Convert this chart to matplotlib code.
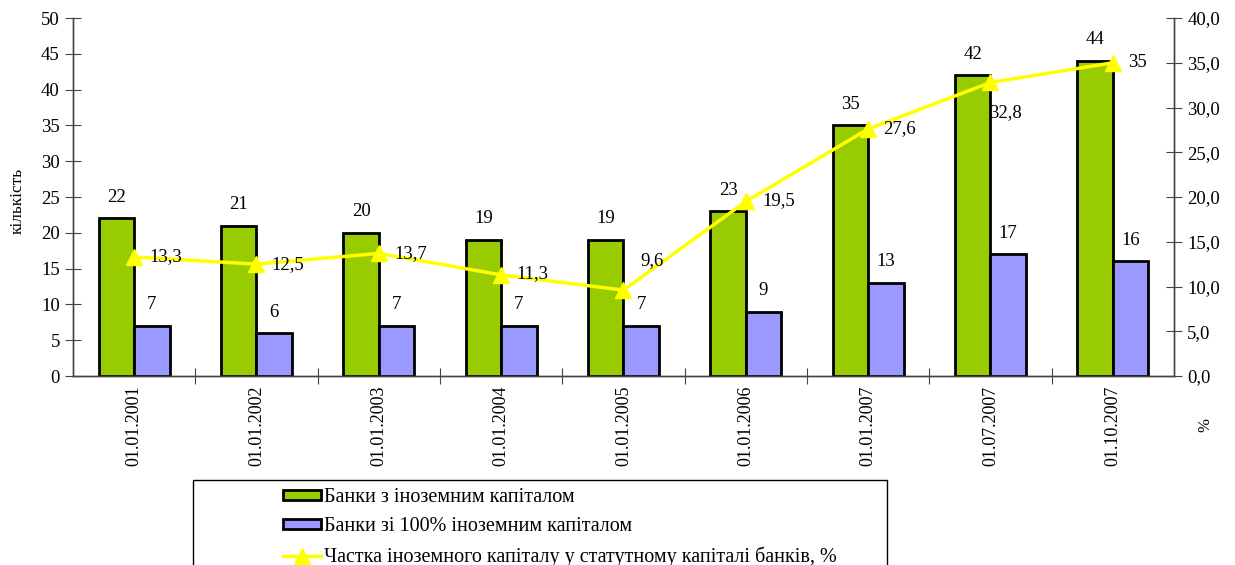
import matplotlib
matplotlib.use('Agg')
import matplotlib.pyplot as plt
from matplotlib.patches import Patch, Rectangle
from matplotlib.lines import Line2D
import numpy as np

plt.rcParams['font.family'] = ['Liberation Serif', 'DejaVu Serif']

dates = ["01.01.2001", "01.01.2002", "01.01.2003", "01.01.2004", "01.01.2005",
         "01.01.2006", "01.01.2007", "01.07.2007", "01.10.2007"]
foreign_banks = [22, 21, 20, 19, 19, 23, 35, 42, 44]
full_foreign_banks = [7, 6, 7, 7, 7, 9, 13, 17, 16]
capital_share = [13.3, 12.5, 13.7, 11.3, 9.6, 19.5, 27.6, 32.8, 35]
share_labels = ["13,3", "12,5", "13,7", "11,3", "9,6", "19,5", "27,6", "32,8", "35"]

# зсув підписів частки відносно маркера (пт)
share_offsets = [(11, 0), (11, 0), (11, 0), (11, 1), (12, 21), (12, 1), (11, 0), (-1, -22), (11, 0)]

GREEN = '#99CC00'
BLUE = '#9999FF'
YELLOW = '#FFFF00'

fig = plt.figure(figsize=(12.35, 5.65), dpi=100)
ax = fig.add_axes([0.0591, 0.3345, 0.8915, 0.6336])
ax2 = ax.twinx()

x = np.arange(len(dates))
w = 0.29
ax.bar(x - w / 2, foreign_banks, w, color=GREEN, edgecolor='black', linewidth=2, zorder=2)
ax.bar(x + w / 2, full_foreign_banks, w, color=BLUE, edgecolor='black', linewidth=2, zorder=2)

for xi, v in zip(x, foreign_banks):
    ax.annotate(str(v), (xi - w / 2, v), xytext=(0, 9), textcoords='offset points',
                ha='center', va='bottom', fontsize=13.5)
for xi, v in zip(x, full_foreign_banks):
    ax.annotate(str(v), (xi + w / 2, v), xytext=(0, 9), textcoords='offset points',
                ha='center', va='bottom', fontsize=13.5)

ax2.plot(x, capital_share, color=YELLOW, linewidth=2.5, marker='^', markersize=11,
         markerfacecolor=YELLOW, markeredgecolor=YELLOW, zorder=3)
for xi, v, lab, off in zip(x, capital_share, share_labels, share_offsets):
    ax2.annotate(lab, (xi, v), xytext=off, textcoords='offset points',
                 ha='left', va='center', fontsize=13.5)

ax.set_xlim(-0.5, len(dates) - 0.5)
ax.set_ylim(0, 50)
ax.set_yticks(range(0, 51, 5))
ax2.set_ylim(0, 40)
ax2.set_yticks(range(0, 41, 5))
ax2.set_yticklabels([f"{t},0" for t in range(0, 41, 5)])

ax.set_xticks(x)
ax.set_xticklabels(dates, rotation=90, fontsize=13)
ax.set_xticks(np.arange(0.5, len(dates) - 0.5, 1), minor=True)
ax.tick_params(axis='x', which='major', length=0, pad=7)
ax.tick_params(axis='x', which='minor', direction='inout', length=12, width=0.8, color='#444444')
ax.tick_params(axis='y', direction='inout', length=12, width=0.8, labelsize=13.5, color='#444444')
ax2.tick_params(axis='y', direction='inout', length=12, width=0.8, labelsize=13.5, color='#444444')

for a in (ax, ax2):
    a.spines['top'].set_visible(False)
    for s in ('left', 'right', 'bottom'):
        a.spines[s].set_color('#444444')
        a.spines[s].set_linewidth(1)
ax.set_zorder(ax2.get_zorder() - 1)
ax.patch.set_visible(False)

fig.text(0.014, 0.645, "кількість", rotation=90, ha='center', va='center', fontsize=12.5)
fig.text(0.976, 0.248, "%", rotation=90, ha='center', va='center', fontsize=12)

# рамка легенди
fig.patches.append(Rectangle((0.156, -0.05), 0.562, 0.2, transform=fig.transFigure,
                             facecolor='white', edgecolor='black', linewidth=1))
handles = [
    Patch(facecolor=GREEN, edgecolor='black', linewidth=2),
    Patch(facecolor=BLUE, edgecolor='black', linewidth=2),
    Line2D([], [], color=YELLOW, linewidth=2.5, marker='^', markersize=11),
]
labels = ["Банки з іноземним капіталом",
          "Банки зі 100% іноземним капіталом",
          "Частка іноземного капіталу у статутному капіталі банків, %"]
fig.legend(handles, labels, loc='upper left', bbox_to_anchor=(0.221, 0.154),
           frameon=False, fontsize=14.5, handlelength=1.9, handleheight=0.4,
           labelspacing=0.5, handletextpad=0.15, borderpad=0)

fig.savefig('out.png', dpi=100)
